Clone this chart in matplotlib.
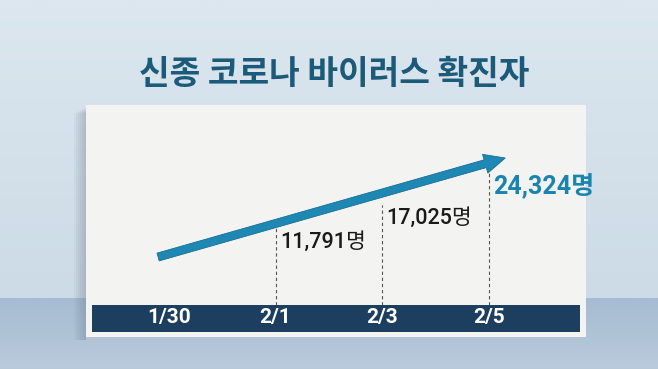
import numpy as np
import matplotlib
matplotlib.use("Agg")
import matplotlib.pyplot as plt
from matplotlib.patches import Rectangle
from matplotlib import font_manager

# data
dates = ["1/30", "2/1", "2/3", "2/5"]
days = [0, 2, 4, 6]
cases_days = [2, 4, 6]
cases = [11791, 17025, 24324]
title = "신종 코로나 바이러스 확진자"

names = {f.name for f in font_manager.fontManager.ttflist}
narrow = "Liberation Sans Narrow" if "Liberation Sans Narrow" in names else "Roboto"
num_fam = [narrow, "Noto Sans CJK KR"]
plt.rcParams["font.family"] = ["Noto Sans CJK KR", "DejaVu Sans"]

W, H = 658, 369
fig = plt.figure(figsize=(W / 100, H / 100), dpi=100)

# background in pixel coords
bg = fig.add_axes([0, 0, 1, 1])
bg.set_xlim(0, W)
bg.set_ylim(H, 0)
bg.axis("off")
top = np.linspace(0, 1, 100).reshape(-1, 1)
bg.imshow(top, cmap=matplotlib.colors.LinearSegmentedColormap.from_list("t", ["#dce7ef", "#cddbe6"]),
          extent=[0, W, 298, 0], aspect="auto", zorder=0)
bg.imshow(top, cmap=matplotlib.colors.LinearSegmentedColormap.from_list("b", ["#a6bcd2", "#b9cadb"]),
          extent=[0, W, H, 298], aspect="auto", zorder=0)
# soft card shadow + card
for k in range(6):
    bg.add_patch(Rectangle((86 - 2 * (k + 1), 108 + k), 2 * (k + 1), 232 - k,
                           color="#6f7f90", alpha=0.07, lw=0, zorder=1))
bg.add_patch(Rectangle((86, 105), 500, 232, color="#f3f3f1", lw=0, zorder=2))
bg.add_patch(Rectangle((92, 305), 488, 27, color="#1c3f5f", lw=0, zorder=3))

fig.text(0.508, 0.797, title, ha="center", va="center", fontsize=24,
         fontweight="bold", color="#1b5a78")

# data axes over the card
ax = fig.add_axes([92 / W, (H - 305) / H, 488 / W, 200 / H])
ax.patch.set_alpha(0)
for s in ax.spines.values():
    s.set_visible(False)
ax.set_xlim(-1.438, 7.70)
ax.set_ylim(-5439, 39324)
ax.set_yticks([])
ax.set_xticks(days, dates)
ax.tick_params(axis="x", length=0, pad=2.0, labelcolor="white", labelsize=15)
for t in ax.get_xticklabels():
    t.set_family(num_fam)
    t.set_fontweight("bold")

ax.vlines(cases_days, -5439, cases, colors="#555555", linestyles=(0, (3, 2.5)), lw=0.8)

ax.annotate("", xy=(6.30, 27462), xytext=(-0.20, 5304),
            arrowprops=dict(arrowstyle="simple,head_length=1.5,head_width=1.4,tail_width=0.58",
                            mutation_scale=10, shrinkA=0, shrinkB=0,
                            fc="#1e88b4", ec="#176e93", lw=0.6))

for i, (d, v) in enumerate(zip(cases_days, cases)):
    last = i == len(cases) - 1
    ax.annotate(f"{v:,}명", xy=(d, v), xytext=(3, -10), textcoords="offset points",
                ha="left", va="center", family=num_fam,
                fontsize=18 if last else 15.5,
                fontweight="bold" if last else "medium",
                color="#1a84b0" if last else "#1a1a1a")

fig.savefig("out.png", dpi=100)
